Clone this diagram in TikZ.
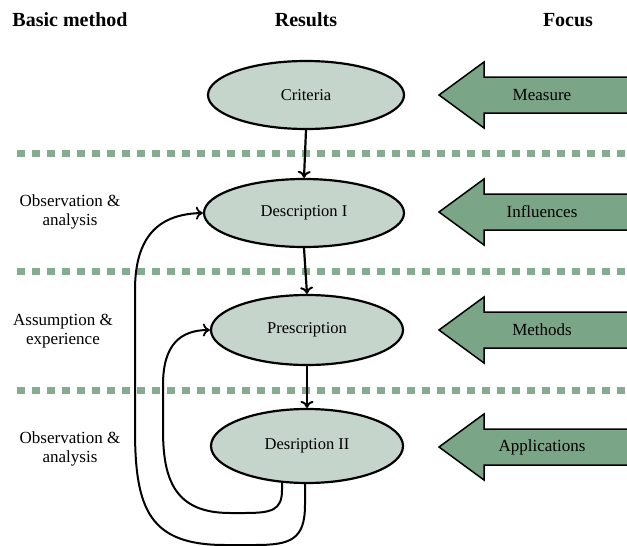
\documentclass[tikz,border=0pt]{standalone}
\usepackage{fontspec}
\setmainfont{Liberation Serif}
\usetikzlibrary{shapes.geometric,arrows.meta}
\definecolor{boxfill}{HTML}{C5D5CB}
\definecolor{focusgreen}{HTML}{7BA587}
\definecolor{dotgreen}{HTML}{85AC90}
\begin{document}
\begin{tikzpicture}[x=1pt,y=-1pt,
  result/.style={ellipse,draw=black,line width=2.2pt,fill=boxfill,
    minimum width=196pt,minimum height=68pt,inner sep=0pt,font=\fontsize{16.5}{19}\selectfont},
  heading/.style={font=\fontsize{20}{24}\selectfont\bfseries},
  method/.style={align=center,font=\fontsize{17}{19}\selectfont},
  flow/.style={line width=2.2pt,-{To[length=7pt,width=13pt,line width=2pt]}},
  loop/.style={line width=2pt,-{To[length=7pt,width=13pt,line width=1.8pt]}},
  divider/.style={dotgreen,line width=7pt,dash pattern=on 8pt off 7pt},
  focusarrow/.style={draw=black,line width=1.5pt,fill=focusgreen},
  focuslabel/.style={font=\fontsize{17}{19}\selectfont}]
\useasboundingbox (0,0) rectangle (627,546);

% column headings
\node[heading] (hmethod) at (70,20) {Basic method};
\node[heading] (hresults) at (306,20) {Results};
\node[heading] (hfocus) at (568,20) {Focus};

% dotted dividers between the phases
\foreach \yy in {153,271,390}
  \draw[divider] (17,\yy) -- (630,\yy);

% result ellipses
\node[result] (crit) at (306,95) {Criteria};
\node[result,minimum width=200pt] (desc1) at (304,213) {Description I};
\node[result,minimum width=192pt,minimum height=70pt] (presc) at (307,330) {Prescription};
\node[result,minimum width=192pt,minimum height=74pt] (desc2) at (307,446) {Desription II};

% basic method labels
\node[method] (m1) at (70,212) {Observation \&\\analysis};
\node[method] (m2) at (63,331) {Assumption \&\\experience};
\node[method] (m3) at (70,449) {Observation \&\\analysis};

% main flow
\draw[flow] (crit.south) -- (desc1.north);
\draw[flow] (desc1.south) -- (presc.north);
\draw[flow] (presc.south) -- (desc2.north);

% feedback loops
\coordinate (outstart) at (305,482);
\coordinate (instart) at (282,481);
\draw[loop] (outstart) -- (305,505) .. controls (305,540) and (290,545) .. (255,545)
  -- (225,545) .. controls (150,545) and (135,510) .. (135,430)
  -- (135,290) .. controls (135,235) and (160,214) .. (desc1.west);
\draw[loop] (instart) -- (282,490) .. controls (282,510) and (272,513) .. (245,513)
  -- (230,513) .. controls (175,513) and (163,480) .. (163,430)
  -- (163,385) .. controls (163,345) and (180,330) .. (presc.west);

% focus arrows
\foreach \yy/\name/\txt in {95/f1/Measure,212/f2/Influences,330/f3/Methods,447/f4/Applications}{
  \draw[focusarrow] (640,\yy-18) -- (484,\yy-18) -- (484,\yy-33) -- (439,\yy)
    -- (484,\yy+33) -- (484,\yy+18) -- (640,\yy+18);
  \node[focuslabel] (\name) at (542,\yy) {\txt};
}
\end{tikzpicture}
\end{document}
